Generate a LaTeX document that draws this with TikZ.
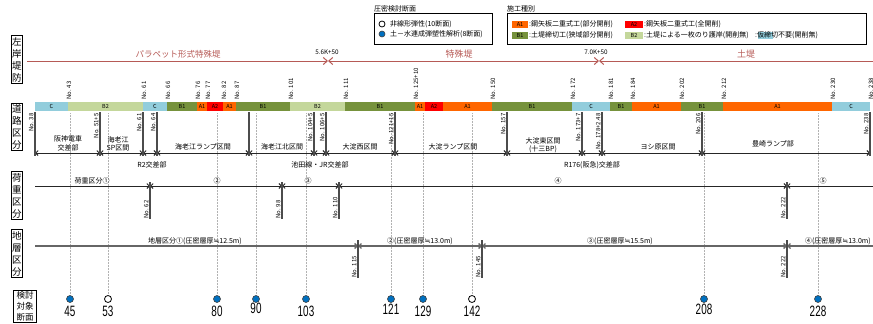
\documentclass[tikz,border=0pt]{standalone}
\usepackage{fontspec}
\setmainfont{Noto Sans CJK JP}
\newfontfamily\numfont[FakeStretch=0.66]{Liberation Sans}
\newfontfamily\dvfont{DejaVu Sans}
\newcommand{\approxsym}{{\dvfont ≒}}
\usetikzlibrary{arrows.meta}
\definecolor{colC}{HTML}{92CDDC}
\definecolor{colB2}{HTML}{C4D79B}
\definecolor{colB1}{HTML}{76923C}
\definecolor{colA1}{HTML}{FF6600}
\definecolor{colA2}{HTML}{FF0000}
\definecolor{levee}{HTML}{B65A56}
\definecolor{dotblue}{HTML}{0070C0}
\tikzset{
 rowbox/.style={draw, line width=0.8pt, inner xsep=0.6pt, inner ysep=1.5pt, align=center, font=\fontsize{9.5}{12}\selectfont, text width=9.5pt},
 nolbl/.style={rotate=90, inner sep=0.3pt, font=\fontsize{6}{6.5}\selectfont},
 seglbl/.style={inner sep=0, font=\fontsize{5.5}{6}\selectfont},
 reglbl/.style={inner sep=0, align=center, font=\fontsize{7}{8.5}\selectfont},
 divline/.style={line width=1.3pt, black!70},
 dimline/.style={line width=0.9pt, black!85, >={Straight Barb[length=2.5pt,width=5pt]}},
 strline/.style={line width=1.4pt, black!60, >={Straight Barb[length=2.5pt,width=5pt]}},
 leveeline/.style={line width=1pt, levee, >={Straight Barb[length=4pt,width=7pt]}},
 guide/.style={densely dotted, gray!60, line width=0.5pt},
 lg/.style={inner sep=0, anchor=west, font=\fontsize{7}{8}\selectfont},
 lgbox/.style={minimum width=16pt, minimum height=7pt, inner sep=0, font=\fontsize{5.5}{6}\selectfont},
 bdot/.style={circle, fill=dotblue, draw=black!75, line width=0.6pt, minimum size=7pt, inner sep=0},
 wdot/.style={circle, fill=white, draw=black, line width=0.8pt, minimum size=7pt, inner sep=0},
 numl/.style={inner sep=0, font=\numfont\fontsize{15}{15}\selectfont},
}
\begin{document}
\begin{tikzpicture}[x=1pt,y=-1pt]
\useasboundingbox (0,0) rectangle (873,324);

% ---------- legends ----------
\node[lg] (t1) at (374,9) {圧密検討断面};
\draw[line width=1pt] (374,13) rectangle (492,44);
\node[wdot, minimum size=6pt] (lw) at (382,24) {};
\node[lg] (lwt) at (390,24) {非線形弾性(10断面)};
\node[bdot, minimum size=6pt] (lb) at (382,34) {};
\node[lg] (lbt) at (390,34) {土－水連成弾塑性解析(8断面)};

\node[lg] (t2) at (507,9) {施工種別};
\draw[line width=1pt] (507,13) rectangle (866,44);
\node[lgbox, fill=colA1] (la1) at (520,24) {A1};
\node[lg] (la1t) at (529,24) {:鋼矢板二重式工(部分開削)};
\node[lgbox, fill=colA2, minimum width=18pt] (la2) at (634,24) {A2};
\node[lg] (la2t) at (644,24) {:鋼矢板二重式工(全開削)};
\node[lgbox, fill=colB1] (lb1) at (520,35) {B1};
\node[lg] (lb1t) at (529,35) {:土堤締切工(狭域部分開削)};
\node[lgbox, fill=colB2, minimum width=18pt] (lb2) at (634,35) {B2};
\node[lg] (lb2t) at (644,35) {:土堤による一枚のり護岸(開削無)};
\fill[colC] (758,31.5) rectangle (773,38.5);
\node[lg] (lct) at (755,35) {:仮締切不要(開削無)};

% ---------- left row boxes ----------
\node[rowbox] (r1) at (17,59.5) {左\\岸\\堤\\防};
\node[rowbox] (r2) at (17,127) {道\\路\\区\\分};
\node[rowbox] (r3) at (17,195.5) {荷\\重\\区\\分};
\node[rowbox] (r4) at (17,253.5) {地\\層\\区\\分};
\node[draw, line width=0.8pt, inner xsep=3pt, inner ysep=1pt, align=center, font=\fontsize{8.5}{11}\selectfont] (r5) at (25,306.5) {検討\\対象\\断面};

% ---------- levee row ----------
\draw[leveeline,->] (27,61) -- (328,61);
\draw[leveeline,<->] (328,61) -- (599,61);
\draw[leveeline,<-] (599,61) -- (873,61);
\node[inner sep=0, text=levee, font=\fontsize{8.5}{9}\selectfont] (lv1) at (178,54) {パラペット形式特殊堤};
\node[inner sep=0, text=levee, font=\fontsize{9}{10}\selectfont] (lv2) at (459,54) {特殊堤};
\node[inner sep=0, text=levee, font=\fontsize{9}{10}\selectfont] (lv3) at (746,54) {土堤};
\node[inner sep=0, font=\fontsize{6.3}{7}\selectfont] (k1) at (327,52) {5.6K+50};
\node[inner sep=0, font=\fontsize{6.3}{7}\selectfont] (k2) at (596,52) {7.0K+50};

% ---------- guides ----------
\foreach \x in {70,108,217,256,306,391,423,472,704,818}
  \draw[guide] (\x,113) -- (\x,294);

% ---------- road bar ----------
\foreach \a/\b/\t in {35/68/C,68/143/B2,143/167/C,167/197/B1,197/207/A1,207/223/A2,223/236/A1,236/290/B1,290/345/B2,345/415/B1,415/425/A1,425/443/A2,443/492/A1,492/572/B1,572/610/C,610/632/B1,632/681/A1,681/723/B1,723/832/A1,832/870/C}
{
  \fill[col\t] (\a,102) rectangle (\b,110.5);
  \node[seglbl] at ({(\a+\b)/2},106.5) {\t};
}
\foreach \x/\t in {68/{No. 43},143/{No. 61},167/{No. 66},197/{No. 76},207/{No. 77},223/{No. 82},236/{No. 87},290/{No. 101},345/{No. 111},415/{No. 125+10},492/{No. 150},572/{No. 172},610/{No. 181},632/{No. 184},681/{No. 202},723/{No. 212},832/{No. 230},870/{No. 238}}
  \node[nolbl, anchor=west] at (\x+1,100) {\t};

% ---------- road divisions ----------
\foreach \a/\b in {35/100,100/143,143/157,157/249,249/314,314/326,326/395,395/507,507/582,582/602,602/702,702/870}
  \draw[dimline,<->] (\a,153) -- (\b,153);
\foreach \x/\t in {35/{No. 38},100/{No. 51+5},143/{No. 61},157/{No. 64},249/{},314/{No. 104+5},326/{No. 106+5},395/{No. 121+15},507/{No. 157},582/{No. 173+7},602/{No. 178+2.48},702/{No. 206},870/{No. 238}}
{
  \draw[divline] (\x,112) -- (\x,156);
  \node[nolbl, anchor=south east] at (\x-1,113) {\t};
}
\node[reglbl] (g1) at (68,143.5) {阪神電車\\交差部};
\node[reglbl] (g2) at (118,144) {海老江\\SP区間};
\node[reglbl] (g3) at (203,147) {海老江ランプ区間};
\node[reglbl] (g4) at (152,165) {R2交差部};
\node[reglbl] (g5) at (282,147) {海老江北区間};
\node[reglbl] (g6) at (320,165) {池田線・JR交差部};
\node[reglbl] (g7) at (360,147) {大淀西区間};
\node[reglbl] (g8) at (453,147) {大淀ランプ区間};
\node[reglbl] (g9) at (543,145) {大淀東区間\\(十三BP)};
\node[reglbl] (g10) at (592,165) {R176(阪急)交差部};
\node[reglbl] (g11) at (658,147) {ヨシ原区間};
\node[reglbl] (g12) at (773,144) {豊崎ランプ部};

% ---------- load divisions ----------
\draw[dimline,->] (35,186) -- (150,186);
\foreach \a/\b in {150/282,282/339,339/787}
  \draw[dimline,<->] (\a,186) -- (\b,186);
\draw[dimline,<-] (787,186) -- (873,186);
\foreach \x/\t in {150/{No. 62},282/{No. 98},339/{No. 110},787/{No. 222}}
{
  \draw[divline] (\x,182) -- (\x,219);
  \node[nolbl, anchor=south west] at (\x-1,219) {\t};
}
\node[reglbl] (h1) at (92,181) {荷重区分①};
\node[reglbl] (h2) at (217,181) {②};
\node[reglbl] (h3) at (308,181) {③};
\node[reglbl] (h4) at (558,181) {④};
\node[reglbl] (h5) at (823,181) {⑤};

% ---------- strata divisions ----------
\draw[strline,->] (35,246) -- (358,246);
\foreach \a/\b in {358/482,482/787}
  \draw[strline,<->] (\a,246) -- (\b,246);
\draw[strline,<-] (787,246) -- (873,246);
\foreach \x/\t in {358/{No. 115},482/{No. 145},787/{No. 222}}
{
  \draw[divline] (\x,240) -- (\x,278);
  \node[nolbl, anchor=south west] at (\x-1,278) {\t};
}
\node[reglbl] (s1) at (195,241) {地層区分①(圧密層厚\approxsym 12.5m)};
\node[reglbl] (s2) at (420,241) {②(圧密層厚\approxsym 13.0m)};
\node[reglbl] (s3) at (620,241) {③(圧密層厚\approxsym 15.5m)};
\node[reglbl, anchor=east] (s4) at (871,241) {④(圧密層厚\approxsym 13.0m)};

% ---------- study sections ----------
\foreach \x/\n/\y in {70/45/311,217/80/311,256/90/308,306/103/311,391/121/309,423/129/311,704/208/309,818/228/311}
{
  \node[bdot] (d\n) at (\x,299) {};
  \node[numl] (n\n) at (\x,\y) {\n};
}
\foreach \x/\n in {108/53,472/142}
{
  \node[wdot] (d\n) at (\x,299) {};
  \node[numl] (n\n) at (\x,311) {\n};
}
\end{tikzpicture}
\end{document}
